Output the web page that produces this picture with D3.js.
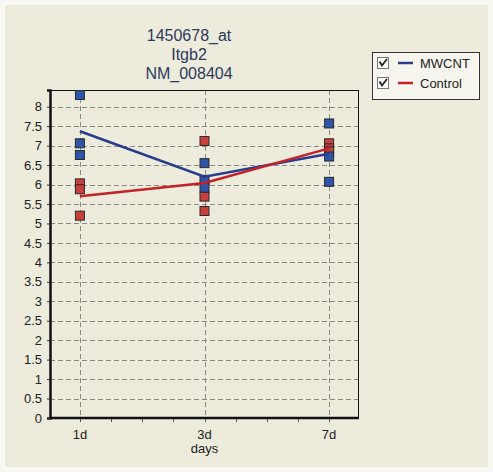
<!DOCTYPE html>
<html>
<head>
<meta charset="utf-8">
<script src="https://cdn.jsdelivr.net/npm/d3@7"></script>
<style>
  html, body { margin: 0; padding: 0; background: #f8f8f2; }
  svg { display: block; }
</style>
</head>
<body>
<svg id="chart" width="493" height="472"></svg>
<script>
// Expression of Itgb2 over time, replicate values and group means
const categories = ["1d", "3d", "7d"];
const titleLines = ["1450678_at", "Itgb2", "NM_008404"];
const seriesNames = ["MWCNT", "Control"];
const mwcntPoints = [[8.30, 7.06, 6.76], [6.55, 6.12, 5.92], [7.57, 6.72, 6.07]];
const controlPoints = [[6.03, 5.88, 5.20], [7.12, 5.69, 5.32], [7.06, 6.93, 6.85]];
const mwcntMeans = [7.37, 6.20, 6.79];
const controlMeans = [5.70, 6.04, 6.93];
const yTicks = [0, 0.5, 1, 1.5, 2, 2.5, 3, 3.5, 4, 4.5, 5, 5.5, 6, 6.5, 7, 7.5, 8];
const xLabel = "days";

const svg = d3.select("#chart");
const W = 493, H = 472;
const plot = { left: 50, right: 359, top: 90, bottom: 418 };

// panel background
svg.append("rect").attr("x", 5).attr("y", 5).attr("width", W - 10).attr("height", H - 10)
  .attr("fill", "#ecebdc");

const x = d3.scalePoint().domain(categories)
  .range([plot.left, plot.right]).padding(0.24);
const xi = d3.scaleLinear().domain([0, categories.length - 1])
  .range([x(categories[0]), x(categories[categories.length - 1])]);
const y = d3.scaleLinear().domain([0, 8.43]).range([plot.bottom, plot.top]);

const g = svg.append("g");

// dashed grid
g.append("g").selectAll("line").data(yTicks.filter(d => d > 0)).join("line")
  .attr("x1", plot.left).attr("x2", plot.right)
  .attr("y1", d => Math.round(y(d)) + 0.5).attr("y2", d => Math.round(y(d)) + 0.5)
  .attr("stroke", "#8a8a84").attr("stroke-width", 1).attr("stroke-dasharray", "5,3");
g.append("g").selectAll("line").data(categories).join("line")
  .attr("x1", d => Math.round(x(d)) + 0.5).attr("x2", d => Math.round(x(d)) + 0.5)
  .attr("y1", plot.top).attr("y2", plot.bottom)
  .attr("stroke", "#8a8a84").attr("stroke-width", 1).attr("stroke-dasharray", "5,3");

// frame
g.append("rect").attr("x", plot.left + 0.5).attr("y", plot.top + 0.5)
  .attr("width", plot.right - plot.left - 1).attr("height", plot.bottom - plot.top)
  .attr("fill", "none").attr("stroke", "#111").attr("stroke-width", 1);

// y axis
const yAxis = d3.axisLeft(y).tickValues(yTicks).tickSize(3).tickPadding(5)
  .tickFormat(d3.format("~g"));
const ya = g.append("g").attr("transform", `translate(${plot.left},0)`).call(yAxis);
ya.select(".domain").attr("stroke", "#111").attr("stroke-width", 2.5);
ya.selectAll(".tick line").attr("stroke", "#333");
ya.selectAll("text").attr("font-family", "Liberation Sans, Arial, sans-serif")
  .attr("font-size", 13).attr("fill", "#222");

// x axis baseline with quarter-step minor ticks
const xa = g.append("g").attr("transform", `translate(0,${plot.bottom})`);
xa.append("line").attr("x1", plot.left).attr("x2", plot.right)
  .attr("y1", 0).attr("y2", 0).attr("stroke", "#111").attr("stroke-width", 2.5);
xa.selectAll("line.minor").data(d3.range(0, 2.01, 0.25)).join("line")
  .attr("class", "minor")
  .attr("x1", d => Math.round(xi(d)) + 0.5).attr("x2", d => Math.round(xi(d)) + 0.5)
  .attr("y1", 1).attr("y2", 4).attr("stroke", "#555");
xa.selectAll("text.cat").data(categories).join("text")
  .attr("class", "cat")
  .attr("x", d => x(d)).attr("y", 21).attr("text-anchor", "middle")
  .attr("font-family", "Liberation Sans, Arial, sans-serif").attr("font-size", 13)
  .attr("fill", "#222").text(d => d);
xa.append("text").attr("x", x(categories[1])).attr("y", 35).attr("text-anchor", "middle")
  .attr("font-family", "Liberation Sans, Arial, sans-serif").attr("font-size", 13)
  .attr("fill", "#222").text(xLabel);

// title
svg.append("g").selectAll("text").data(titleLines).join("text")
  .attr("x", 189).attr("y", (d, i) => 41 + i * 19).attr("text-anchor", "middle")
  .attr("font-family", "Liberation Sans, Arial, sans-serif").attr("font-size", 16)
  .attr("fill", "#2c3a5c").text(d => d);

// series
const series = [
  { name: seriesNames[0], points: mwcntPoints, means: mwcntMeans, line: "#283c8c", fill: "#2f55a8" },
  { name: seriesNames[1], points: controlPoints, means: controlMeans, line: "#c42228", fill: "#c8403c" }
];
const lineGen = d3.line().x((d, i) => x(categories[i])).y(d => y(d));

// Control drawn under MWCNT for markers, lines on top of markers
[series[1], series[0]].forEach(s => {
  const pts = [];
  s.points.forEach((vals, i) => vals.forEach(v => pts.push({ c: categories[i], v })));
  g.append("g").selectAll("rect").data(pts).join("rect")
    .attr("x", d => x(d.c) - 4.5).attr("y", d => y(d.v) - 4.5)
    .attr("width", 9).attr("height", 9)
    .attr("fill", s.fill).attr("stroke", "#2a2a2a").attr("stroke-width", 1);
});
[series[0], series[1]].forEach(s => {
  g.append("path").datum(s.means).attr("d", lineGen)
    .attr("fill", "none").attr("stroke", s.line).attr("stroke-width", 2.5);
});

// legend
const lg = svg.append("g").attr("transform", "translate(372,52)");
lg.append("rect").attr("x", 0.5).attr("y", 0.5).attr("width", 107).attr("height", 47)
  .attr("fill", "#f6f5ee").attr("stroke", "#333").attr("stroke-width", 1);
series.forEach((s, i) => {
  const row = lg.append("g").attr("transform", `translate(0,${11 + i * 20})`);
  row.append("rect").attr("x", 5.5).attr("y", -5.5).attr("width", 11).attr("height", 11)
    .attr("fill", "#fafaf6").attr("stroke", "#777").attr("stroke-width", 1);
  row.append("path").attr("d", "M7.5,-1.5 L10,2.5 L15,-4")
    .attr("fill", "none").attr("stroke", "#222").attr("stroke-width", 1.8);
  row.append("line").attr("x1", 26).attr("x2", 41).attr("y1", 0).attr("y2", 0)
    .attr("stroke", s.line).attr("stroke-width", 2.5);
  row.append("text").attr("x", 48).attr("y", 4.5)
    .attr("font-family", "Liberation Sans, Arial, sans-serif").attr("font-size", 13)
    .attr("fill", "#222").text(s.name);
});
</script>
</body>
</html>
